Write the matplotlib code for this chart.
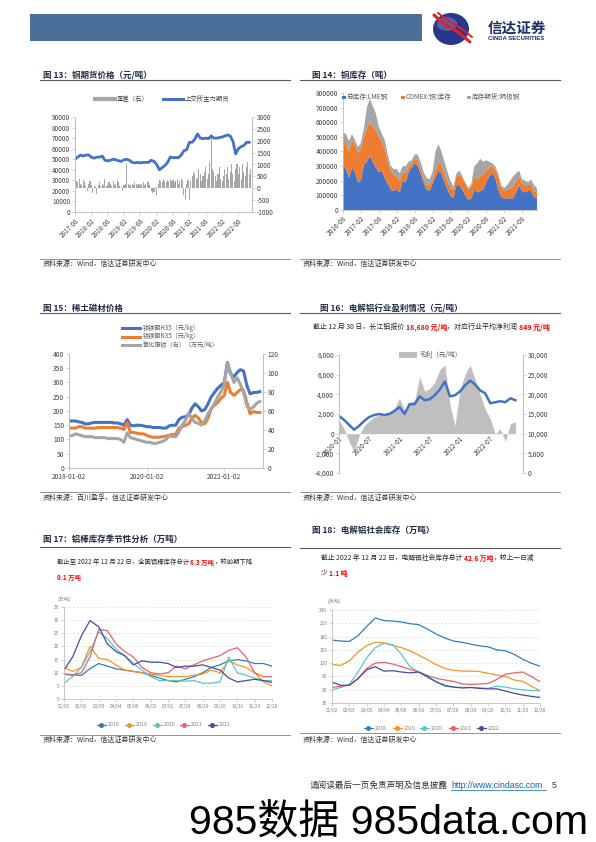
import numpy as np
import matplotlib
matplotlib.use("Agg")
import matplotlib.pyplot as plt
from matplotlib.patches import Rectangle, Ellipse

plt.rcParams['font.family'] = ['Noto Sans CJK SC', 'DejaVu Sans']
plt.rcParams['axes.unicode_minus'] = False
plt.rcParams['axes.linewidth'] = 0.6

# ---------------- data ----------------
# fig 13: SHFE copper main contract, monthly 2017-08 .. 2022-12 (yuan/t)
cu_price = [50000, 52000, 54000, 53000, 54000,
            54000, 52000, 51000, 52000, 52000, 53000, 49000, 48500, 49000, 50000, 49500, 48500,
            48000, 49500, 50000, 49000, 47000, 46500, 47000, 46500, 47000, 47000, 47000, 49000,
            48000, 45000, 40000, 42000, 44000, 47000, 52000, 51500, 51500, 51500, 54000, 58000,
            59000, 66000, 66000, 69000, 74000, 70000, 69500, 70000, 69500, 72000, 70000, 70000,
            70500, 71000, 72000, 73000, 72000, 67000, 55000, 60000, 62000, 63000, 66000, 66000]
# basis (right axis), twice a month
basis = [150, 300, 250, 400, 200, 150, 350, 250, 100, -100, 200, 300,
         150, -200, 100, 50, -250, 150, 250, 100, 200, 150, 400, 100,
         150, 250, 200, 100, 300, 150, 200, 350, 250, 100, 50, -100,
         150, 200, 1000, 200, 150, 150, 200, 150, 250, 200, 150, 200,
         150, 200, 250, 150, 200, 250, 300, 150, -100, -200, -150, 50,
         -300, 200, 350, 300, 250, 400, 300, 250, 350, 300, 400, 300,
         350, 250, 300, 400, 200, 300, 400, 350, -300, -450, 200, 350,
         -500, 300, 500, 700, 600, 400, 450, 800, 600, 300, 500, 700,
         900, 400, 600, 1100, 2300, 800, 700, 500, 300, 600, 900, 400,
         300, 500, 800, 600, 900, 400, 700, 1000, 600, 300, 800, 1000,
         600, 900, 400, 1000, 700, 500, 900, 1100, 600, 800]
cu_ticks = ['2017-08', '2018-02', '2018-08', '2019-02', '2019-08', '2020-02',
            '2020-08', '2021-02', '2021-08', '2022-02', '2022-08']

# fig 14: copper stocks, monthly 2016-08 .. 2022-01 (kt)
lme_kt = [300, 280, 220, 290, 260,
          190, 200, 310, 330, 370, 330, 290, 260, 270, 220, 180, 140,
          130, 140, 120, 200, 190, 260, 290, 320, 300, 250, 190, 140,
          130, 180, 230, 270, 250, 190, 140, 100, 80, 170, 170, 140,
          100, 70, 80, 140, 120, 130, 140, 190, 230, 250, 220, 140,
          90, 80, 80, 80, 80, 120, 170, 130, 120, 130, 130, 90,
          80]
comex_kt = [170, 180, 180, 190, 190,
            200, 220, 190, 230, 230, 240, 260, 240, 200, 200, 150, 130,
            110, 90, 80, 60, 60, 40, 30, 30, 40, 40, 30, 30,
            40, 30, 50, 50, 60, 60, 60, 50, 60, 60, 70, 80,
            80, 70, 80, 90, 90, 100, 100, 80, 60, 50, 60, 90,
            60, 50, 60, 70, 80, 80, 60, 50, 50, 40, 50, 40,
            40]
shfe_kt = [60, 60, 70, 40, 30,
           40, 40, 60, 140, 160, 140, 110, 70, 50, 60, 50, 30,
           40, 50, 50, 40, 50, 30, 20, 30, 40, 40, 40, 50,
           40, 50, 120, 130, 90, 80, 60, 50, 20, 20, 30, 10,
           10, 10, 20, 70, 110, 120, 90, 70, 40, 20, 20, 20,
           20, 20, 30, 50, 70, 50, 40, 30, 30, 20, 30, 40,
           30]
inv_ticks = ['2016-08', '2017-02', '2017-08', '2018-02', '2018-08', '2019-02',
             '2019-08', '2020-02', '2020-08', '2021-02', '2021-08']
inv_labels = ['总库存:LME铜', 'COMEX:铜:库存', '库存期货:阴极铜']

# fig 15: rare earth magnets, monthly 2018-01 .. 2022-12
h35 = [165, 165, 165, 162, 160, 155, 155, 158, 160, 160, 160, 160,
       160, 160, 158, 158, 155, 150, 170, 150, 148, 150, 150, 148,
       145, 145, 142, 142, 142, 140, 140, 148, 150, 150, 170, 178,
       180, 185, 210, 225, 215, 200, 205, 225, 250, 265, 280, 290,
       300, 370, 330, 320, 335, 345, 340, 290, 260, 265, 265, 268]
n35 = [140, 140, 140, 145, 145, 140, 140, 140, 140, 142, 142, 142,
       142, 142, 142, 142, 140, 135, 160, 125, 125, 122, 120, 120,
       115, 110, 108, 108, 108, 110, 112, 115, 118, 118, 140, 145,
       150, 155, 175, 185, 175, 160, 155, 175, 210, 220, 230, 245,
       255, 300, 265, 255, 265, 275, 272, 230, 190, 198, 195, 195]
prnd = [34, 34, 36, 35, 34, 33, 33, 33, 32, 32, 32, 32,
        31, 31, 31, 31, 30, 27, 37, 32, 31, 30, 29, 28,
        27, 27, 26, 26, 27, 28, 30, 34, 33, 33, 38, 45,
        50, 58, 52, 48, 47, 45, 50, 57, 62, 68, 75, 80,
        88, 110, 100, 90, 95, 88, 80, 65, 62, 64, 68, 70]
re_labels = ['钕铁硼H35（元/kg）', '钕铁硼N35（元/kg）', '氧化镨钕（右）（万元/吨）']
re_ticks = ['2018-01-02', '2020-01-02', '2022-01-02']

# fig 16: aluminium profit (left) and price (right), monthly 2020-01 .. 2022-12
al_profit = [1400, 500, -800, -1800, -200, 800, 1300, 1700, 1900, 2000, 2200, 2600,
             3600, 2400, 3200, 3300, 5800, 4300, 4600, 5200, 6500, 7000, 3000, 800,
             4500, 6000, 7000, 5500, 4000, 2500, 1500, 0, 500, -800, 1000, 1200]
al_price = [14500, 13500, 12250, 11000, 12000, 13250, 14250, 14750, 15000, 14750, 15000, 15750,
            16750, 15000, 17500, 17500, 19500, 18500, 18750, 19750, 21250, 23250, 19500, 19750,
            20750, 22250, 23500, 22500, 21000, 20250, 17750, 18000, 18250, 18000, 19000, 18500]
al_ticks = ['2020-01', '2020-07', '2021-01', '2021-07', '2022-01', '2022-07']

# fig 17 / 18 seasonal charts
season_ticks = ['01/02', '02/03', '03/05', '04/04', '05/06', '06/03', '07/01',
                '07/28', '08/29', '09/26', '10/31', '11/29', '12/28']
years = ['2018', '2019', '2020', '2021', '2022']
year_colors = ['#2E7EBF', '#F7941D', '#5BC5C4', '#E8616B', '#474A9E']
rod = {
    '2018': [9.5, 9.2, 9.0, 11.5, 13.5, 12.5, 11.5, 11, 10.5, 10, 9, 8, 7, 6.5, 7.5, 8.5, 10, 12, 13, 14.5, 15, 14.5, 13.5, 13.5, 12.5],
    '2019': [12, 10.5, 12, 20, 15.5, 15, 13, 11, 10.5, 10, 9.5, 9, 8.5, 8.5, 8.5, 9, 9.5, 11, 10, 14.5, 13, 12, 10, 6.5, 5],
    '2020': [6, 8.5, 12, 18, 25.5, 23, 19, 16.5, 13.5, 11, 8.5, 7, 7, 7, 6.8, 7, 6, 6, 6.5, 16, 10, 9, 8, 7, 7],
    '2021': [9.5, 9, 10, 16, 26.5, 26, 21, 18, 16, 12, 10, 9.5, 10, 12.5, 11.5, 13, 14.5, 15.5, 16.5, 18.5, 19.5, 16, 10, 8.5, 8.5],
    '2022': [11, 16, 24, 29.8, 27.5, 21, 18, 16.5, 13, 14.5, 14, 14, 13.5, 12, 12.5, 12.5, 13, 12, 11, 8, 6.5, 7, 7.5, 7, 6.3],
}
ingot = {
    '2018': [172, 170, 169, 182, 203, 222, 216, 215, 213, 209, 207, 197, 186, 177, 170, 167, 163, 159, 157, 150, 148, 140, 129, 120, 113],
    '2019': [117, 115, 125, 145, 160, 167, 166, 160, 155, 148, 138, 128, 117, 108, 104, 102, 102, 101, 97, 93, 90, 82, 79, 68, 58],
    '2020': [60, 65, 72, 100, 132, 155, 165, 162, 140, 112, 100, 88, 78, 68, 66, 65, 65, 64, 63, 68, 66, 62, 60, 58, 58],
    '2021': [65, 68, 70, 85, 108, 120, 122, 118, 112, 106, 100, 92, 86, 82, 79, 73, 72, 73, 74, 83, 95, 98, 100, 90, 78],
    '2022': [77, 70, 70, 85, 105, 112, 102, 103, 100, 98, 100, 90, 78, 70, 66, 64, 65, 63, 62, 62, 57, 52, 48, 45, 42.6],
}

# ---------------- page ----------------
W, H = 596, 842
fig = plt.figure(figsize=(W / 100, H / 100), dpi=100)


def box(l, t, r, b):
    return [l / W, 1 - b / H, (r - l) / W, (b - t) / H]


# transparent full-page layer, drawn above the charts
canvas = fig.add_axes([0, 0, 1, 1])
canvas.set_xlim(0, W)
canvas.set_ylim(H, 0)
canvas.axis('off')
canvas.set_autoscale_on(False)
canvas.set_zorder(10)

TITLE_C = '#1f2a44'
GRID_C = '#BFBFBF'


def rich(x, y, parts, size):
    t = None
    for s, c, w in parts:
        if t is None:
            t = canvas.text(x, y, s, fontsize=size, color=c, fontweight=w, ha='left', va='bottom')
        else:
            t = canvas.annotate(s, xy=(1, 0), xycoords=t, fontsize=size, color=c,
                                fontweight=w, ha='left', va='bottom')


def frame(x0, x1, tx, title, ty, tline, src, sy, sline):
    canvas.text(tx, ty, title, fontsize=6.1, fontweight='bold', color=TITLE_C, va='center')
    canvas.plot([x0, x1], [tline, tline], color='#595959', lw=0.8)
    canvas.plot([x0, x1], [sline, sline], color='#7f7f7f', lw=0.6)
    canvas.text(x0 + 3, sy, src, fontsize=5, color='#333333', style='italic', va='center')


def style(a, size, lc='#404040'):
    a.tick_params(labelsize=size, length=2, width=0.5, colors=GRID_C, labelcolor=lc, pad=1.5)
    for s in a.spines.values():
        s.set_color(GRID_C)
        s.set_linewidth(0.6)
    a.spines['top'].set_visible(False)


# header
canvas.add_patch(Rectangle((30, 14), 392, 27, color='#4A6F98', lw=0))
canvas.add_patch(Ellipse((451, 29), 36, 32, color='#27378C', lw=0))
canvas.add_patch(Ellipse((447, 24), 20, 14, color='#6F7FC0', lw=0, alpha=0.6))
canvas.plot([434, 444, 458, 470], [15, 24, 32, 42], color='#E3202A', lw=2.2, solid_capstyle='round')
canvas.plot([438, 449, 462, 472], [13, 21, 29, 37], color='#E3202A', lw=1.4, solid_capstyle='round')
canvas.text(488, 28, '信达证券', fontsize=10.5, fontweight='bold', color='#1B2D6B', va='center')
canvas.text(488, 38.5, 'CINDA SECURITIES', fontsize=4.3, fontweight='bold', color='#1B2D6B',
            va='center', family=['Liberation Sans', 'DejaVu Sans'])

# ---------- fig 13 ----------
frame(40, 290, 43, '图 13：铜期货价格（元/吨）', 75, 80, '资料来源：Wind，信达证券研发中心', 264, 259)
ax = fig.add_axes(box(75, 117, 252, 212))
axr = ax.twinx()
ax.set_zorder(axr.get_zorder() + 1)
ax.patch.set_visible(False)
axr.bar(np.arange(len(basis)) * 0.5, basis, width=0.4, color='#A6A6A6', lw=0)
ax.plot(np.arange(len(cu_price)), cu_price, color='#4472C4', lw=2.0)
ax.set_xlim(0, 65)
ax.set_ylim(0, 90000)
ax.set_yticks(range(0, 90001, 10000))
axr.set_ylim(-1000, 3000)
axr.set_yticks(range(-1000, 3001, 500))
ax.set_xticks(range(0, 61, 6))
ax.set_xticklabels(cu_ticks, rotation=45, ha='right', rotation_mode='anchor')
style(ax, 4.6)
style(axr, 4.6)
canvas.plot([95, 115], [99, 99], color='#A6A6A6', lw=3)
canvas.text(117, 99, '基差（右）', fontsize=4.6, va='center', color='#404040')
canvas.plot([163, 183], [99, 99], color='#4472C4', lw=2.2)
canvas.text(185, 99, '上交所主力期货', fontsize=4.6, va='center', color='#404040')

# ---------- fig 14 ----------
frame(300, 560, 312, '图 14：铜库存（吨）', 75, 80, '资料来源：Wind，信达证券研发中心', 264, 259)
ax = fig.add_axes(box(343, 93, 537, 210))
inv_colors = ['#4472C4', '#ED7D31', '#A5A5A5']
ax.stackplot(np.arange(len(lme_kt)), np.array(lme_kt) * 1000, np.array(comex_kt) * 1000,
             np.array(shfe_kt) * 1000, colors=inv_colors, lw=0)
ax.set_xlim(0, 65)
ax.set_ylim(0, 800000)
ax.set_yticks(range(0, 800001, 100000))
ax.set_xticks(range(0, 61, 6))
ax.set_xticklabels(inv_ticks, rotation=45, ha='right', rotation_mode='anchor')
style(ax, 4.8)
ax.spines['right'].set_visible(False)
for lx, lab, c in zip([342, 401, 467], inv_labels, inv_colors):
    canvas.add_patch(Rectangle((lx, 95.5), 3.5, 3.5, color=c, lw=0))
    canvas.text(lx + 5, 97, lab, fontsize=4.8, va='center', color='#595959')

# ---------- fig 15 ----------
frame(40, 290, 43, '图 15：稀土磁材价格', 308, 313, '资料来源：百川盈孚，信达证券研发中心', 498, 492)
ax = fig.add_axes(box(69, 354, 263, 468))
axr = ax.twinx()
re_colors = ['#4472C4', '#ED7D31', '#A5A5A5']
mx = np.arange(len(h35))
ax.plot(mx, h35, color=re_colors[0], lw=2.2)
ax.plot(mx, n35, color=re_colors[1], lw=2.2)
axr.plot(mx, prnd, color=re_colors[2], lw=2.2)
ax.set_xlim(0, 60)
ax.set_ylim(0, 400)
ax.set_yticks(range(0, 401, 50))
axr.set_ylim(0, 120)
axr.set_yticks(range(0, 121, 20))
ax.set_xticks([0, 24, 48])
ax.set_xticklabels(re_ticks)
style(ax, 4.8)
style(axr, 4.8)
for ly, lab, c in zip([328, 336.5, 345], re_labels, re_colors):
    canvas.plot([122, 140], [ly, ly], color=c, lw=2.2)
    canvas.text(143, ly, lab, fontsize=4.4, va='center', color='#595959')

# ---------- fig 16 ----------
frame(300, 560, 320, '图 16：电解铝行业盈利情况（元/吨）', 308, 313, '资料来源：Wind，信达证券研发中心', 498, 492)
rich(313, 331, [('截止 12 月 30 日，长江铝报价 ', '#262626', 'normal'),
                ('18,680 元/吨', '#FF0000', 'bold'),
                ('，对应行业平均净利润 ', '#262626', 'normal'),
                ('849 元/吨', '#FF0000', 'bold')], 5.0)
ax = fig.add_axes(box(339, 355, 523, 473))
axr = ax.twinx()
qx = np.arange(len(al_profit))
ax.fill_between(qx, al_profit, 0, color='#BFBFBF', lw=0)
axr.plot(qx, al_price, color='#4472C4', lw=1.8)
ax.spines['bottom'].set_position(('data', 0))
ax.spines['bottom'].set_visible(False)
axr.spines['bottom'].set_visible(False)
ax.set_xlim(0, 36.5)
ax.set_ylim(-4000, 8000)
ax.set_yticks(range(-4000, 8001, 2000))
ax.set_yticklabels([f'{v:,}' for v in range(-4000, 8001, 2000)])
axr.set_ylim(0, 30000)
axr.set_yticks(range(0, 30001, 5000))
axr.set_yticklabels([f'{v:,}' for v in range(0, 30001, 5000)])
style(ax, 4.8)
style(axr, 4.8)
ax.set_xticks(range(0, 31, 6))
ax.set_xticklabels(al_ticks, rotation=45, ha='right', rotation_mode='anchor')
ax.tick_params(axis='x', length=0, pad=0.5)
canvas.add_patch(Rectangle((399, 352), 18, 5.5, color='#BFBFBF', lw=0))
canvas.text(420, 355, '毛利（元/吨）', fontsize=4.8, va='center', color='#595959')

# ---------- fig 17 / 18 ----------
sx = np.arange(25) * 0.5


def seasonal(rect, series, ylo, yhi, step, legend_x, legend_y):
    a = fig.add_axes(box(*rect))
    for yr, c in zip(years, year_colors):
        a.plot(sx, series[yr], color=c, lw=0.9)
    a.set_xlim(0, 12)
    a.set_ylim(ylo, yhi)
    a.set_yticks(range(ylo, yhi + 1, step))
    a.set_xticks(range(13))
    a.set_xticklabels(season_ticks)
    a.grid(axis='y', ls=(0, (3, 3)), color='#D9D9D9', lw=0.5)
    style(a, 3.4, lc='#7f7f7f')
    a.spines['right'].set_visible(False)
    for lx, yr, c in zip(legend_x, years, year_colors):
        canvas.plot([lx - 4.5, lx + 4.5], [legend_y, legend_y], color=c, lw=0.9)
        canvas.plot([lx], [legend_y], 'o', color=c, ms=2.6)
        canvas.text(lx + 7, legend_y, yr, fontsize=3.8, va='center', color='#7f7f7f')
    return a


frame(40, 290, 43, '图 17：铝棒库存季节性分析（万吨）', 539, 547, '资料来源：Wind，信达证券研发中心', 740, 735)
rich(57, 566, [('截止至 2022 年 12 月 22 日，全国铝棒库存总计 ', '#262626', 'normal'),
               ('6.3 万吨', '#FF0000', 'bold'),
               ('，较前期下降', '#262626', 'normal')], 4.6)
rich(57, 581, [('0.1 万吨', '#FF0000', 'bold')], 4.6)
seasonal((64, 607, 272, 699), rod, 0, 35, 5, [101, 129, 157, 184, 212], 725)
canvas.text(58, 599, '(万吨)', fontsize=3.6, va='center', color='#7f7f7f')

frame(300, 560, 312, '图 18：电解铝社会库存（万吨）', 530, 548, '资料来源：Wind，信达证券研发中心', 740, 733)
rich(321, 562, [('截止 2022 年 12 月 22 日，电解铝社会库存总计 ', '#262626', 'normal'),
                ('42.6 万吨', '#FF0000', 'bold'),
                ('，较上一日减', '#262626', 'normal')], 4.9)
rich(321, 577, [('少 ', '#262626', 'normal'), ('1.1 吨', '#FF0000', 'bold')], 4.9)
seasonal((332, 610, 540, 703), ingot, 30, 240, 30, [368, 397, 424, 453, 481], 728)
canvas.text(327, 601, '(万吨)', fontsize=3.6, va='center', color='#7f7f7f')

# footer
canvas.text(448, 785, '请阅读最后一页免责声明及信息披露', fontsize=6.2, ha='right', va='center', color='#333333')
canvas.text(451, 785, 'http://www.cindasc.com', fontsize=6.3, va='center', color='#0563C1',
            family=['Liberation Sans', 'DejaVu Sans'])
canvas.plot([451, 546], [789.5, 789.5], color='#0563C1', lw=0.5)
canvas.text(552, 785, '5', fontsize=6.3, va='center', color='#333333',
            family=['Liberation Sans', 'DejaVu Sans'])
canvas.text(189, 823, '985数据 985data.com', fontsize=29.5, va='center', color='black',
            family=['Liberation Sans', 'Noto Sans CJK SC'])

fig.savefig('out.png', dpi=100)
